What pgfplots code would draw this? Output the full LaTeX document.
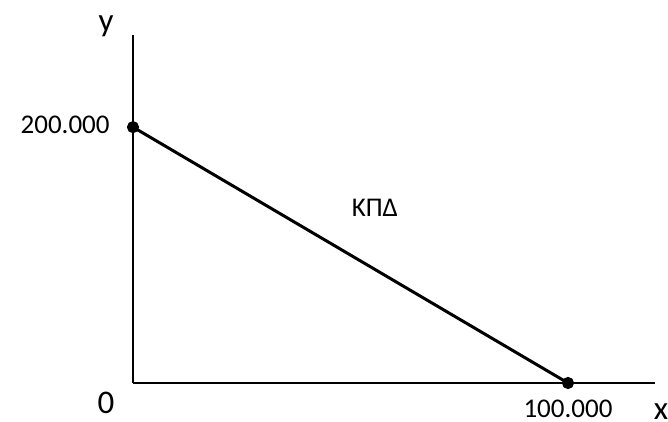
\documentclass[border=0pt]{standalone}
\usepackage{pgfplots}
\pgfplotsset{compat=1.18}
\usepackage{fontspec}
\setmainfont{Carlito}
\begin{document}
\begin{tikzpicture}[lbl/.style={font=\fontsize{27}{30}\selectfont, inner sep=0pt},
  big/.style={font=\fontsize{33}{36}\selectfont, inner sep=0pt}]
\useasboundingbox (-133pt,-39pt) rectangle (535pt,383pt);
\begin{axis}[
  at={(0pt,0pt)}, anchor=origin,
  scale only axis, width=522pt, height=348pt,
  xmin=0, xmax=120, ymin=0, ymax=272,
  axis x line=bottom, axis y line=left,
  axis line style={line width=2.2pt, -},
  xtick=\empty, ytick=\empty,
  clip=false,
]
\addplot[black, line width=3pt, mark=*, mark size=4.5pt, mark options={fill=black}] coordinates {(0,200) (100,0)};
\node[big] at (axis cs:-6.2,279) {y};
\node[big] at (axis cs:121.4,-22) {x};
\node[big] at (axis cs:-6.2,-15.6) {0};
\node[lbl] at (axis cs:-15.6,201.6) {200.000};
\node[lbl] at (axis cs:100,-20.3) {100.000};
\node[lbl] at (axis cs:55.6,136.7) {ΚΠΔ};
\end{axis}
\end{tikzpicture}
\end{document}
